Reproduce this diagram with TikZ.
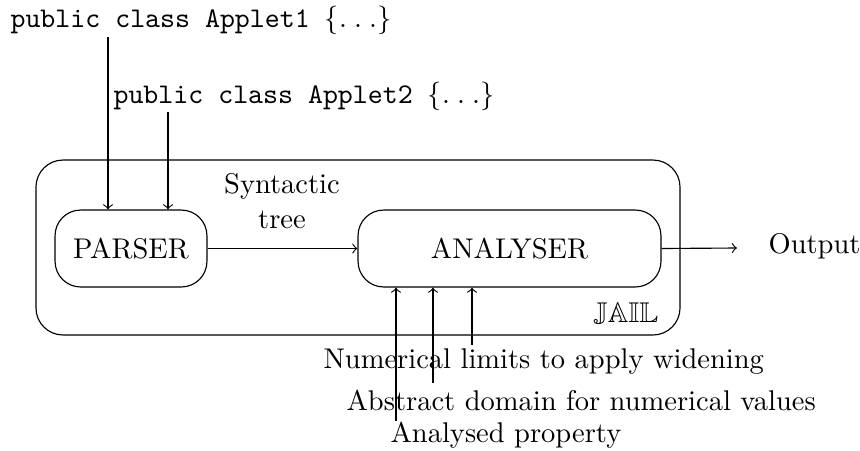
\documentclass[tikz,border=0pt]{standalone}
\usepackage{amssymb}
\newcommand{\elide}{$\{.\mkern4.5mu.\mkern4.5mu.\}$}
\begin{document}
\begin{tikzpicture}[x=0.3509pt,y=-0.3509pt,>=to,
  procbox/.style={draw,rounded corners=9pt,inner sep=0pt,minimum height=27pt},
  lbl/.style={inner sep=0pt,anchor=base west},
  clbl/.style={inner sep=0pt,anchor=base}]
\useasboundingbox (0,0) rectangle (860,450);
% outer JAIL box
\node[draw,rounded corners=9.5pt,minimum width=226pt,minimum height=61.4pt,inner sep=0pt] (jail) at (358,247.5) {};
\node[lbl] (jailtxt) at (593,322) {$\mathbb{JAIL}$};
% sources
\node[lbl] (app1) at (10,27) {\texttt{public class Applet1 }\elide};
\node[lbl] (app2) at (113,103) {\texttt{public class Applet2 }\elide};
% processing boxes
\node[procbox,minimum width=53.3pt] (parser) at (131,248.5) {PARSER};
\node[procbox,minimum width=106.3pt] (analyser) at (509.5,248.5) {ANALYSER};
\node[clbl] (syn) at (282,193) {Syntactic};
\node[clbl] (tree) at (282,228) {tree};
\node[lbl] (output) at (768,253) {Output};
% parameter labels
\node[lbl] (numlim) at (323,368) {Numerical limits to apply widening};
\node[lbl] (absdom) at (346,410) {Abstract domain for numerical values};
\node[lbl] (prop) at (390,442) {Analysed property};
% connector end points
\coordinate (s1) at (108,37);
\coordinate (s2) at (168,112);
\coordinate (oa) at (737,248);
\coordinate (b1) at (396,421);
\coordinate (b2) at (433,383);
\coordinate (b3) at (472,345);
% connectors
\draw[->] (s1) -- (s1 |- parser.north);
\draw[->] (s2) -- (s2 |- parser.north);
\draw[->] (parser) -- (analyser);
\draw[->] (analyser.east) -- (oa);
\draw[->] (b1) -- (b1 |- analyser.south);
\draw[->] (b2) -- (b2 |- analyser.south);
\draw[->] (b3) -- (b3 |- analyser.south);
\end{tikzpicture}
\end{document}
